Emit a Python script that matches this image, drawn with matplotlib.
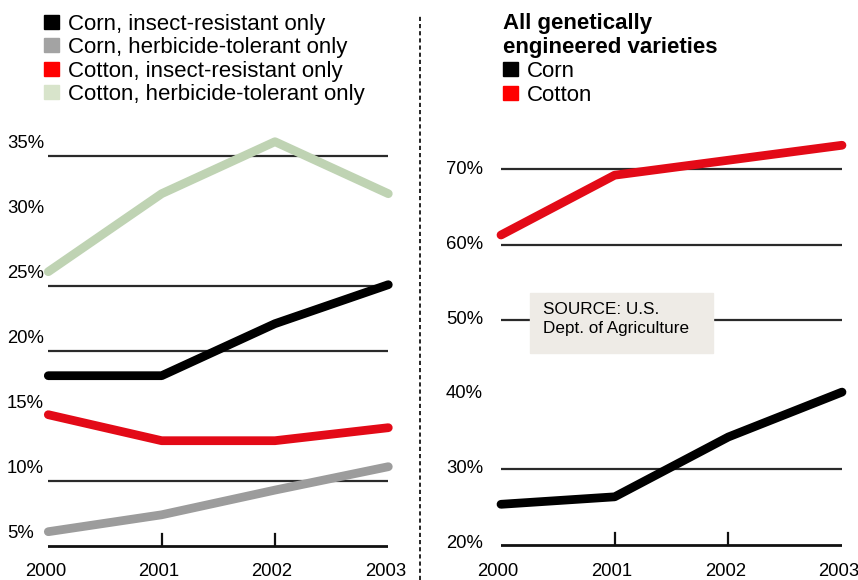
import matplotlib.pyplot as plt
from matplotlib.patches import Rectangle

plt.rcParams["font.family"] = ["Liberation Sans", "DejaVu Sans"]

# data read from the graphic
years = [2000, 2001, 2002, 2003]

corn_ir = [17, 17, 21, 24]
corn_ht = [5, 6.3, 8.2, 10]
cotton_ir = [14, 12, 12, 13]
cotton_ht = [25, 31, 35, 31]

all_corn = [25, 26, 34, 40]
all_cotton = [61, 69, 71, 73]

left_ticks = [35, 30, 25, 20, 15, 10, 5]
left_grid = [33.9, 23.9, 18.9, 8.9]
left_base = 3.9
right_ticks = [70, 60, 50, 40, 30, 20]
right_grid = [69.8, 59.6, 49.7, 29.7]
right_base = 19.5

left_names = ["Corn, insect-resistant only", "Corn, herbicide-tolerant only",
              "Cotton, insect-resistant only", "Cotton, herbicide-tolerant only"]
left_colors = ["#000000", "#9c9c9c", "#e30a17", "#bfd3b3"]
left_swatch = ["#000000", "#a3a3a3", "#ff0000", "#d8e4cb"]
right_names = ["Corn", "Cotton"]
right_colors = ["#000000", "#e30a17"]
right_swatch = ["#000000", "#ff0000"]

W, H = 858, 580
fig = plt.figure(figsize=(W / 100, H / 100), dpi=100)


def box(x0, x1, ytop, ybot):
    return [x0 / W, 1 - ybot / H, (x1 - x0) / W, (ybot - ytop) / H]


def panel(ax, ylim, ticks, grid, base, tick_h, series, colors, label_x):
    ax.set_xlim(2000, 2003)
    ax.set_ylim(*ylim)
    ax.axis("off")
    for g in grid:
        ax.axhline(g, color="#2a2a2a", lw=1.6, zorder=1)
    ax.axhline(base, color="#111111", lw=2.0, zorder=1)
    for yr in years[1:-1]:
        ax.plot([yr, yr], [base, base + tick_h], color="#111111", lw=1.6, zorder=1)
    for t in ticks:
        ax.annotate(f"{t}%", xy=(label_x, t), xycoords=("axes fraction", "data"),
                    xytext=(0, -6.3), textcoords="offset pixels",
                    ha="left", va="baseline", fontsize=13.3, annotation_clip=False)
    for yr in years:
        ax.annotate(str(yr), xy=(yr, 4), xycoords=("data", "figure pixels"),
                    xytext=(-3, 0), textcoords="offset pixels",
                    ha="center", va="baseline", fontsize=13.3, annotation_clip=False)
    for vals, c in zip(series, colors):
        ax.plot(years, vals, color=c, lw=6.3, solid_capstyle="round",
                solid_joinstyle="round", zorder=3, clip_on=False)


ax1 = fig.add_axes(box(48.3, 388.3, 141.7 - 2 * 13, 141.7 + 33 * 13))
panel(ax1, (2, 37), left_ticks, left_grid, left_base, 0.92,
      [cotton_ht, corn_ht, cotton_ir, corn_ir],
      [left_colors[3], left_colors[1], left_colors[2], left_colors[0]],
      (7 - 48.3) / 340)

ax2 = fig.add_axes(box(501, 842, 167.7 - 6 * 7.48, 167.7 + 55 * 7.48))
panel(ax2, (15, 76), right_ticks, right_grid, right_base, 1.6,
      [all_cotton, all_corn], [right_colors[1], right_colors[0]],
      (446 - 501) / 341)

# source box
fig.patches.append(Rectangle((530 / W, 1 - 353 / H), 183 / W, 60 / H,
                             transform=fig.transFigure, color="#eeebe6", zorder=2))
fig.text(543 / W, 1 - 314 / H, "SOURCE: U.S.", fontsize=12.3, va="baseline", zorder=3)
fig.text(543 / W, 1 - 332.5 / H, "Dept. of Agriculture", fontsize=12.3, va="baseline", zorder=3)

# left legend
for i, (name, c) in enumerate(zip(left_names, left_swatch)):
    base_y = 30 + i * 23.3
    fig.patches.append(Rectangle((44 / W, 1 - (base_y - 1) / H), 15 / W, 14 / H,
                                 transform=fig.transFigure, color=c))
    fig.text(68 / W, 1 - base_y / H, name, fontsize=16, va="baseline")

# right legend
fig.text(503 / W, 1 - 29.3 / H, "All genetically", fontsize=16, fontweight="bold", va="baseline")
fig.text(503 / W, 1 - 53.3 / H, "engineered varieties", fontsize=16, fontweight="bold", va="baseline")
for i, (name, c) in enumerate(zip(right_names, right_swatch)):
    base_y = 77.3 + i * 23.3
    fig.patches.append(Rectangle((503 / W, 1 - (base_y - 1) / H), 15 / W, 14 / H,
                                 transform=fig.transFigure, color=c))
    fig.text(527 / W, 1 - base_y / H, name, fontsize=16, va="baseline")

# dotted divider
fig.add_artist(plt.Line2D([419.5 / W, 419.5 / W], [0, 1 - 15 / H], transform=fig.transFigure,
                          color="black", lw=1.2, linestyle=(0, (2.5, 1.8))))

fig.savefig("out.png", dpi=100, facecolor="white")
